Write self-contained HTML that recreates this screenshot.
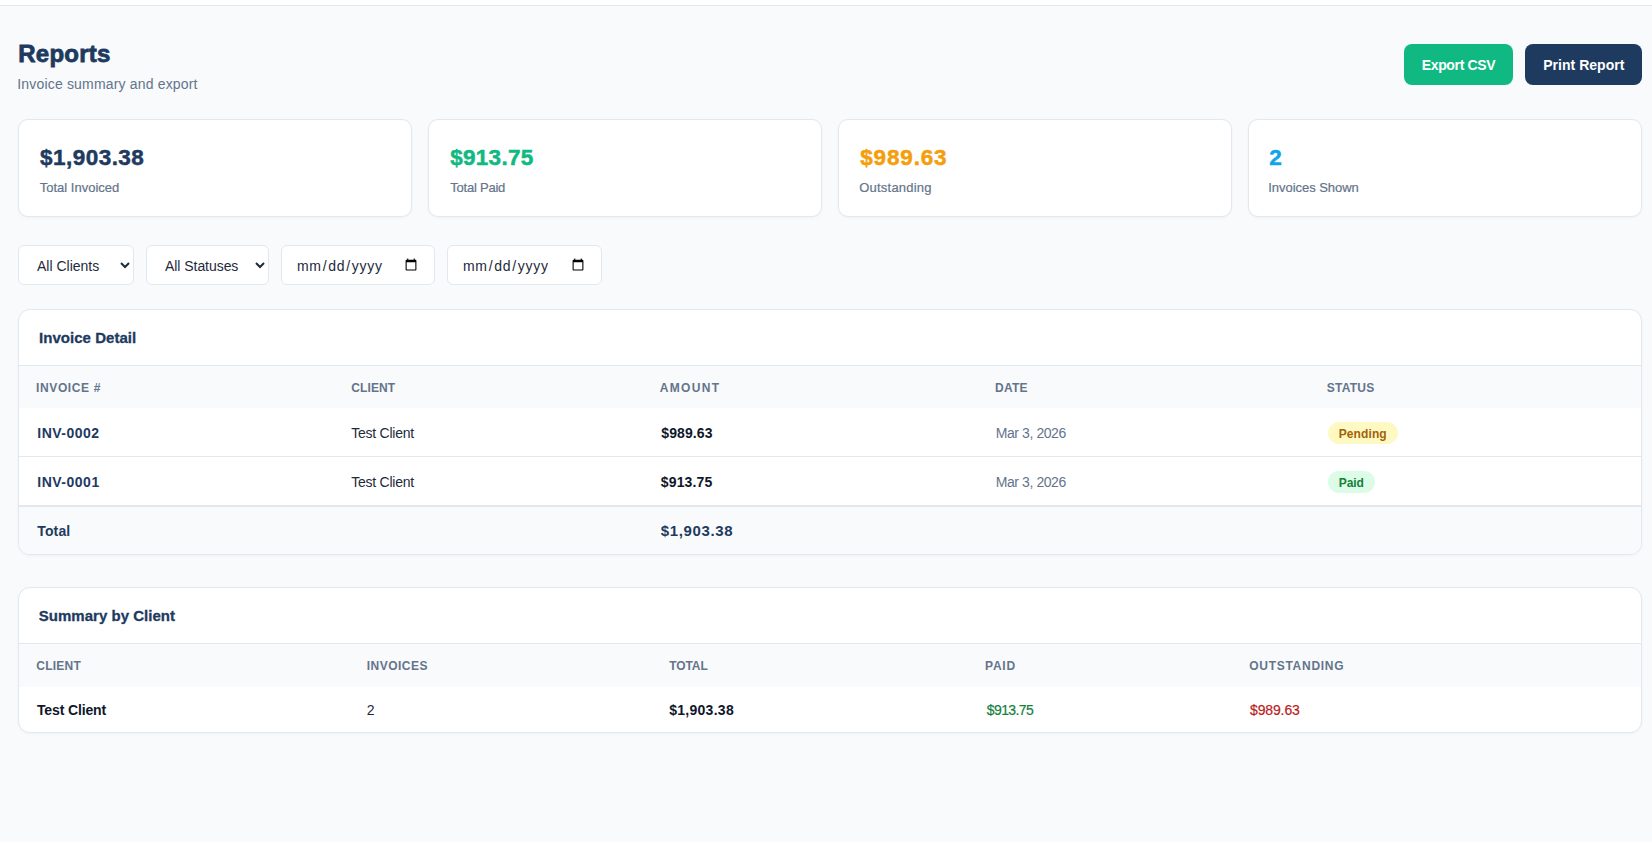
<!DOCTYPE html>
<html>
<head>
<meta charset="utf-8">
<title>Reports</title>
<style>
*{box-sizing:border-box;margin:0;padding:0}
html,body{width:1652px;height:842px;overflow:hidden}
body{background:#f8fafc;font-family:"Liberation Sans",Arial,sans-serif;color:#1e293b;position:relative}
.t{position:absolute;white-space:nowrap;line-height:20px}
.topbar{position:absolute;left:0;top:0;width:1652px;height:6px;background:#fff;border-bottom:1px solid #e2e8f0}
.btn{position:absolute;top:44px;height:41px;border-radius:8px}
.card{position:absolute;top:119px;width:394px;height:98px;background:#fff;border:1px solid #e2e8f0;border-radius:10px;box-shadow:0 1px 3px rgba(15,23,42,0.04)}
.ctl{position:absolute;top:245px;height:40px;border:1px solid #e2e8f0;border-radius:6px;background:#fff;font-family:"Liberation Sans",Arial,sans-serif;font-size:14px;color:#1e293b;padding:0 14px;outline:none}
.panel{position:absolute;left:18px;width:1624px;background:#fff;border:1px solid #e2e8f0;border-radius:12px;overflow:hidden;box-shadow:0 1px 3px rgba(15,23,42,0.04)}
.bar{position:absolute;left:0;width:100%}
input[type=date]::-webkit-datetime-edit{position:relative;top:1px}
.badge{position:absolute;height:22px;border-radius:11px}
</style>
</head>
<body>
<div class="topbar"></div>
<span class="t" id="h1" style="left:18.25px;top:44.00px;font-size:24px;font-weight:700;color:#1e3a5f;letter-spacing:0.236px;-webkit-text-stroke:0.8px #1e3a5f">Reports</span>
<span class="t" id="sub" style="left:17.25px;top:74.00px;font-size:14px;font-weight:400;color:#64748b;letter-spacing:0.176px">Invoice summary and export</span>
<div class="btn" style="left:1404px;width:109px;background:#10b981"></div>
<div class="btn" style="left:1525px;width:117px;background:#1e3a5f"></div>
<span class="t" id="bt1" style="left:1421.75px;top:55.00px;font-size:14px;font-weight:700;color:#fff;letter-spacing:-0.352px">Export CSV</span>
<span class="t" id="bt2" style="left:1543.25px;top:55.00px;font-size:14px;font-weight:700;color:#fff;letter-spacing:0.019px">Print Report</span>

<div class="card" style="left:18px"></div>
<div class="card" style="left:428px"></div>
<div class="card" style="left:838px"></div>
<div class="card" style="left:1248px"></div>
<span class="t" id="v1" style="left:40.00px;top:148.00px;font-size:22.5px;font-weight:700;color:#1e3a5f;letter-spacing:0.468px;-webkit-text-stroke:0.5px #1e3a5f">$1,903.38</span><span class="t" id="l1" style="left:39.75px;top:178.00px;font-size:13px;font-weight:400;color:#64748b;-webkit-text-stroke:0.2px #64748b">Total Invoiced</span><span class="t" id="v2" style="left:450.25px;top:148.00px;font-size:22.5px;font-weight:700;color:#10b981;letter-spacing:0.268px;-webkit-text-stroke:0.5px #10b981">$913.75</span><span class="t" id="l2" style="left:450.25px;top:178.00px;font-size:13px;font-weight:400;color:#64748b;letter-spacing:-0.221px;-webkit-text-stroke:0.2px #64748b">Total Paid</span><span class="t" id="v3" style="left:860.25px;top:148.00px;font-size:22.5px;font-weight:700;color:#f59e0b;letter-spacing:0.834px;-webkit-text-stroke:0.5px #f59e0b">$989.63</span><span class="t" id="l3" style="left:859.25px;top:178.00px;font-size:13px;font-weight:400;color:#64748b;letter-spacing:0.220px;-webkit-text-stroke:0.2px #64748b">Outstanding</span><span class="t" id="v4" style="left:1269.25px;top:148.00px;font-size:22.5px;font-weight:700;color:#0ea5e9;-webkit-text-stroke:0.5px #0ea5e9">2</span><span class="t" id="l4" style="left:1268.25px;top:178.00px;font-size:13px;font-weight:400;color:#64748b;letter-spacing:-0.042px;-webkit-text-stroke:0.2px #64748b">Invoices Shown</span>

<select class="ctl" id="sel1" style="left:18px;width:116px;padding:2px 8px 0 14px"><option>All Clients</option></select>
<select class="ctl" id="sel2" style="left:146px;width:123px;padding:2px 8px 0 14px;letter-spacing:-0.05px"><option>All Statuses</option></select>
<input class="ctl" id="d1" type="date" style="left:281px;width:154px;letter-spacing:0.69px">
<input class="ctl" id="d2" type="date" style="left:447px;width:155px;letter-spacing:0.69px">

<div class="panel" style="top:309px;height:246px">
  <div class="bar" style="top:55px;height:1px;background:#e2e8f0"></div>
  <div class="bar" style="top:56px;height:42px;background:#f8fafc"></div>
  <div class="bar" style="top:146px;height:1px;background:#e2e8f0"></div>
  <div class="bar" style="top:195px;height:2px;background:#e2e8f0"></div>
  <div class="bar" style="top:197px;height:47px;background:#f8fafc"></div>
</div>
<div class="badge" style="left:1328px;top:422px;width:70px;background:#fef9c3"></div>
<div class="badge" style="left:1328px;top:471px;width:47px;background:#dcfce7"></div>
<span class="t" id="p1t" style="left:39.00px;top:328.00px;font-size:15px;font-weight:700;color:#1e3a5f;letter-spacing:0.042px;-webkit-text-stroke:0.3px #1e3a5f">Invoice Detail</span>
<span class="t" id="h11" style="left:36.00px;top:378.00px;font-size:12px;font-weight:700;color:#64748b;letter-spacing:0.625px">INVOICE #</span><span class="t" id="h12" style="left:351.25px;top:378.00px;font-size:12px;font-weight:700;color:#64748b;letter-spacing:0.120px">CLIENT</span><span class="t" id="h13" style="left:659.75px;top:378.00px;font-size:12px;font-weight:700;color:#64748b;letter-spacing:1.320px">AMOUNT</span><span class="t" id="h14" style="left:995.00px;top:378.00px;font-size:12px;font-weight:700;color:#64748b;letter-spacing:0.270px">DATE</span><span class="t" id="h15" style="left:1326.75px;top:378.00px;font-size:12px;font-weight:700;color:#64748b;letter-spacing:0.240px">STATUS</span>
<span class="t" id="r11" style="left:37.25px;top:423.00px;font-size:14px;font-weight:700;color:#1e3a5f;letter-spacing:0.488px">INV-0002</span><span class="t" id="r12" style="left:351.25px;top:423.00px;font-size:14px;font-weight:400;color:#1e293b;letter-spacing:-0.240px">Test Client</span><span class="t" id="r13" style="left:661.25px;top:423.00px;font-size:14px;font-weight:700;color:#0f172a;letter-spacing:0.096px">$989.63</span><span class="t" id="r14" style="left:995.75px;top:423.00px;font-size:14px;font-weight:400;color:#64748b;letter-spacing:-0.420px">Mar 3, 2026</span><span class="t" id="r15" style="left:1338.75px;top:424.00px;font-size:12px;font-weight:700;color:#a16207;letter-spacing:0.097px">Pending</span>
<span class="t" id="r21" style="left:37.25px;top:472.00px;font-size:14px;font-weight:700;color:#1e3a5f;letter-spacing:0.512px">INV-0001</span><span class="t" id="r22" style="left:351.25px;top:472.00px;font-size:14px;font-weight:400;color:#1e293b;letter-spacing:-0.240px">Test Client</span><span class="t" id="r23" style="left:660.75px;top:472.00px;font-size:14px;font-weight:700;color:#0f172a;letter-spacing:0.167px">$913.75</span><span class="t" id="r24" style="left:995.75px;top:472.00px;font-size:14px;font-weight:400;color:#64748b;letter-spacing:-0.420px">Mar 3, 2026</span><span class="t" id="r25" style="left:1338.75px;top:473.00px;font-size:12px;font-weight:700;color:#15803d;letter-spacing:-0.068px">Paid</span>
<span class="t" id="tt1" style="left:37.25px;top:521.00px;font-size:14px;font-weight:700;color:#1e3a5f;letter-spacing:0.150px">Total</span><span class="t" id="tt3" style="left:660.75px;top:521.00px;font-size:15px;font-weight:700;color:#1e3a5f;letter-spacing:0.650px">$1,903.38</span>

<div class="panel" style="top:587px;height:146px">
  <div class="bar" style="top:55px;height:1px;background:#e2e8f0"></div>
  <div class="bar" style="top:56px;height:43px;background:#f8fafc"></div>
</div>
<span class="t" id="p2t" style="left:38.75px;top:606.00px;font-size:15px;font-weight:700;color:#1e3a5f;letter-spacing:0.026px;-webkit-text-stroke:0.3px #1e3a5f">Summary by Client</span>
<span class="t" id="h21" style="left:36.25px;top:656.00px;font-size:12px;font-weight:700;color:#64748b;letter-spacing:0.240px">CLIENT</span><span class="t" id="h22" style="left:366.75px;top:656.00px;font-size:12px;font-weight:700;color:#64748b;letter-spacing:0.488px">INVOICES</span><span class="t" id="h23" style="left:669.25px;top:656.00px;font-size:12px;font-weight:700;color:#64748b;letter-spacing:-0.100px">TOTAL</span><span class="t" id="h24" style="left:985.00px;top:656.00px;font-size:12px;font-weight:700;color:#64748b;letter-spacing:0.796px">PAID</span><span class="t" id="h25" style="left:1249.25px;top:656.00px;font-size:12px;font-weight:700;color:#64748b;letter-spacing:0.720px">OUTSTANDING</span>
<span class="t" id="s1" style="left:37.00px;top:700.00px;font-size:14px;font-weight:700;color:#0f172a;letter-spacing:-0.140px">Test Client</span><span class="t" id="s2" style="left:366.75px;top:700.00px;font-size:14px;font-weight:400;color:#1e293b">2</span><span class="t" id="s3" style="left:669.25px;top:700.00px;font-size:14px;font-weight:700;color:#0f172a;letter-spacing:0.268px">$1,903.38</span><span class="t" id="s4" style="left:986.75px;top:700.00px;font-size:14px;font-weight:400;color:#15803d;letter-spacing:-0.598px;-webkit-text-stroke:0.2px #15803d">$913.75</span><span class="t" id="s5" style="left:1250.00px;top:700.00px;font-size:14px;font-weight:400;color:#b91c1c;letter-spacing:-0.131px;-webkit-text-stroke:0.2px #b91c1c">$989.63</span>
</body>
</html>
